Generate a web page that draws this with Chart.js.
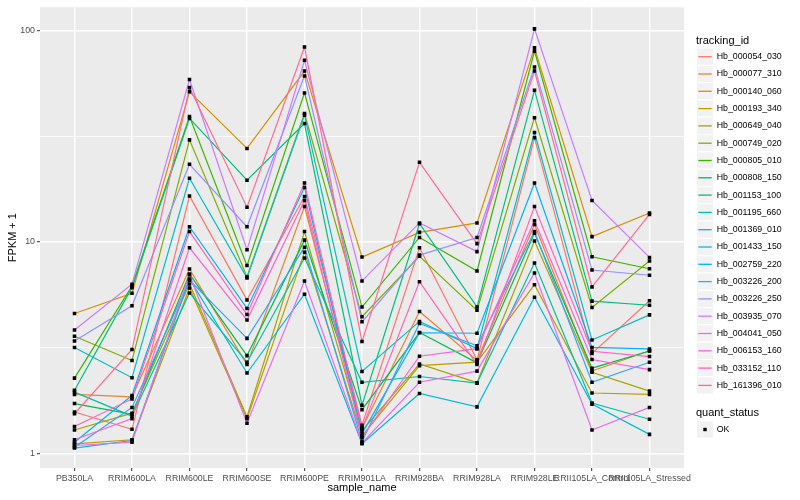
<!DOCTYPE html>
<html>
<head>
<meta charset="utf-8">
<script src="https://cdn.jsdelivr.net/npm/chart.js@4.4.1/dist/chart.umd.min.js"></script>
<style>
  html, body { margin: 0; padding: 0; background: #ffffff; }
  #wrap { width: 800px; height: 500px; }
</style>
</head>
<body>
<div id="wrap"><canvas id="c" width="800" height="500"></canvas></div>
<script>
// ---------- data ----------
const categories = ['PB350LA','RRIM600LA','RRIM600LE','RRIM600SE','RRIM600PE','RRIM901LA',
  'RRIM928BA','RRIM928LA','RRIM928LE','RRII105LA_Control','RRII105LA_Stressed'];

const seriesNames = ['Hb_000054_030','Hb_000077_310','Hb_000140_060','Hb_000193_340','Hb_000649_040',
  'Hb_000749_020','Hb_000805_010','Hb_000808_150','Hb_001153_100','Hb_001195_660','Hb_001369_010',
  'Hb_001433_150','Hb_002759_220','Hb_003226_200','Hb_003226_250','Hb_003935_070','Hb_004041_050',
  'Hb_006153_160','Hb_033152_110','Hb_161396_010'];

const Hb_000054_030 = [1.57, 1.30, 16.5, 5.32, 16.4, 1.36, 9.38, 2.77, 31.1, 2.97, 5.27];
const Hb_000077_310 = [1.90, 1.85, 7.45, 2.63, 14.7, 1.31, 4.69, 2.75, 12.1, 2.45, 3.06];
const Hb_000140_060 = [4.59, 5.72, 51.3, 27.7, 64.3, 8.48, 11.1, 12.3, 82.8, 10.6, 13.7];
const Hb_000193_340 = [1.11, 1.16, 6.06, 1.46, 8.95, 1.21, 2.60, 2.70, 6.28, 1.93, 1.90];
const Hb_000649_040 = [1.29, 1.55, 6.33, 1.49, 11.2, 1.28, 2.65, 2.16, 10.1, 2.42, 1.97];
const Hb_000749_020 = [3.58, 2.75, 30.4, 6.85, 40.5, 4.43, 8.55, 4.75, 38.7, 4.90, 8.12];
const Hb_000805_010 = [2.27, 6.19, 39.2, 7.73, 50.7, 4.92, 10.5, 7.29, 79.9, 8.51, 7.47];
const Hb_000808_150 = [1.72, 1.53, 7.05, 2.90, 10.2, 1.61, 3.73, 2.68, 11.0, 2.53, 3.05];
const Hb_001153_100 = [1.99, 6.08, 38.4, 19.6, 36.3, 1.69, 12.2, 4.93, 52.2, 5.25, 5.02];
const Hb_001195_660 = [1.95, 1.50, 5.74, 2.70, 8.39, 2.17, 2.31, 2.15, 7.95, 1.73, 1.45];
const Hb_001369_010 = [3.17, 2.28, 20.0, 6.76, 39.8, 2.44, 4.21, 3.13, 32.9, 3.44, 4.52];
const Hb_001433_150 = [1.06, 1.15, 6.68, 2.40, 5.66, 1.11, 1.92, 1.66, 5.48, 1.71, 1.23];
const Hb_002759_220 = [1.13, 1.88, 11.8, 4.85, 18.1, 1.24, 3.72, 3.70, 19.0, 3.17, 3.12];
const Hb_003226_200 = [1.07, 1.65, 6.60, 3.50, 9.45, 1.14, 4.12, 3.23, 11.2, 2.17, 2.70];
const Hb_003226_250 = [3.40, 4.99, 23.3, 11.8, 61.0, 4.19, 8.67, 10.5, 67.2, 7.37, 6.96];
const Hb_003935_070 = [3.83, 6.31, 58.6, 9.18, 72.3, 6.54, 12.3, 9.00, 101.8, 15.7, 8.45];
const Hb_004041_050 = [1.09, 1.13, 7.00, 1.39, 6.54, 1.12, 2.17, 2.45, 7.13, 1.29, 1.65];
const Hb_006153_160 = [1.16, 1.46, 9.38, 4.27, 15.7, 1.19, 2.88, 3.13, 12.6, 2.78, 2.49];
const Hb_033152_110 = [1.34, 1.81, 11.2, 4.54, 19.0, 1.31, 6.49, 2.63, 14.7, 3.04, 2.87];
const Hb_161396_010 = [1.54, 3.10, 53.7, 14.6, 83.5, 3.38, 23.8, 9.82, 64.3, 6.13, 13.5];

const seriesValues = [Hb_000054_030, Hb_000077_310, Hb_000140_060, Hb_000193_340, Hb_000649_040,
  Hb_000749_020, Hb_000805_010, Hb_000808_150, Hb_001153_100, Hb_001195_660, Hb_001369_010,
  Hb_001433_150, Hb_002759_220, Hb_003226_200, Hb_003226_250, Hb_003935_070, Hb_004041_050,
  Hb_006153_160, Hb_033152_110, Hb_161396_010];

const yMajorTicks = [1, 10, 100];
const yTickLabels = ['1', '10', '100'];
const yMinorTicks = [3.1623, 31.623];

const quantStatusLevels = ['OK'];

// ---------- styles ----------
const palette = ['#F8766D','#EA8331','#D89000','#C09B00','#A3A500','#7CAE00','#39B600','#00BB4E',
  '#00BF7D','#00C1A3','#00BFC4','#00BAE0','#00B0F6','#35A2FF','#9590FF','#C77CFF','#E76BF3',
  '#FA62DB','#FF62BC','#FF6C91'];
const FONT = "'Liberation Sans', Arial, Helvetica, sans-serif";

const datasets = seriesValues.map((vals, i) => ({
  type: 'line',
  label: seriesNames[i],
  data: vals.map((v, j) => ({ x: j, y: v })),
  borderColor: palette[i],
  backgroundColor: palette[i],
  borderWidth: 1.2,
  pointRadius: 0,
  pointHoverRadius: 0,
  fill: false,
  tension: 0,
  order: 100 - i
}));
datasets.push({
  type: 'scatter',
  label: quantStatusLevels[0],
  data: seriesValues.flatMap(vals => vals.map((v, j) => ({ x: j, y: v }))),
  backgroundColor: '#000000',
  borderColor: '#000000',
  borderWidth: 0,
  pointStyle: 'rect',
  pointRadius: 2.5,
  pointHoverRadius: 2.5,
  showLine: false,
  order: 0
});

const panelBg = {
  id: 'panelBg',
  beforeDraw(chart) {
    const { ctx, chartArea: a } = chart;
    ctx.save();
    ctx.fillStyle = '#EBEBEB';
    ctx.fillRect(a.left, a.top, a.right - a.left, a.bottom - a.top);
    ctx.restore();
  }
};

const ggLegend = {
  id: 'ggLegend',
  afterDraw(chart) {
    const ctx = chart.ctx;
    ctx.save();
    const x0 = 696;
    ctx.textBaseline = 'middle';
    ctx.textAlign = 'left';
    ctx.fillStyle = '#000000';
    ctx.font = '11px ' + FONT;
    ctx.fillText('tracking_id', x0, 40.7);
    const step = 17.3;
    seriesNames.forEach((name, i) => {
      const cy = 56.7 + i * step;
      ctx.fillStyle = '#F2F2F2';
      ctx.fillRect(x0 + 0.5, cy - step / 2, 17, step);
      ctx.strokeStyle = '#FFFFFF';
      ctx.lineWidth = 1;
      ctx.strokeRect(x0 + 0.5, cy - step / 2, 17, step);
      ctx.strokeStyle = palette[i];
      ctx.lineWidth = 1.3;
      ctx.beginPath();
      ctx.moveTo(x0 + 2.3, cy);
      ctx.lineTo(x0 + 15.7, cy);
      ctx.stroke();
      ctx.fillStyle = '#000000';
      ctx.font = '8.8px ' + FONT;
      ctx.fillText(name, 716.7, cy);
    });
    ctx.font = '11px ' + FONT;
    ctx.fillStyle = '#000000';
    ctx.fillText('quant_status', x0, 412.7);
    quantStatusLevels.forEach((lv, i) => {
      const cy = 429.5 + i * step;
      ctx.fillStyle = '#F2F2F2';
      ctx.fillRect(x0 + 0.5, cy - step / 2, 17, step);
      ctx.strokeStyle = '#FFFFFF';
      ctx.lineWidth = 1;
      ctx.strokeRect(x0 + 0.5, cy - step / 2, 17, step);
      ctx.fillStyle = '#000000';
      ctx.fillRect(x0 + 9 - 1.7, cy - 1.7, 3.4, 3.4);
      ctx.font = '8.8px ' + FONT;
      ctx.fillText(lv, 716.7, cy);
    });
    ctx.restore();
  }
};

const isMajorY = v => yMajorTicks.some(m => Math.abs(m - v) < 1e-6);

new Chart(document.getElementById('c'), {
  type: 'line',
  data: { datasets },
  plugins: [panelBg, ggLegend],
  options: {
    responsive: false,
    animation: false,
    events: [],
    layout: { padding: { top: 5, right: 116, left: 0, bottom: 0 } },
    plugins: { legend: { display: false }, tooltip: { enabled: false } },
    scales: {
      x: {
        type: 'linear',
        min: -0.6,
        max: 10.6,
        afterBuildTicks: s => { s.ticks = categories.map((c, i) => ({ value: i })); },
        afterFit: s => { s.height = 32; },
        ticks: {
          autoSkip: false, maxRotation: 0, minRotation: 0, padding: 2,
          color: '#4D4D4D', font: { family: FONT, size: 8.8 },
          callback: v => categories[v]
        },
        grid: { color: '#FFFFFF', lineWidth: 1.4, tickColor: '#333333', tickLength: 3, tickWidth: 1 },
        border: { display: false },
        title: { display: true, text: 'sample_name', color: '#000000',
          font: { family: FONT, size: 11 }, padding: { top: 0, bottom: 5 } }
      },
      y: {
        type: 'logarithmic',
        min: 0.853,
        max: 128.8,
        afterBuildTicks: s => {
          s.ticks = yMajorTicks.concat(yMinorTicks).sort((a, b) => a - b).map(v => ({ value: v }));
        },
        afterFit: s => { s.width = 40; },
        ticks: {
          autoSkip: false, padding: 2, color: '#4D4D4D', font: { family: FONT, size: 8.8 },
          callback: v => { const k = yMajorTicks.findIndex(m => Math.abs(m - v) < 1e-6); return k >= 0 ? yTickLabels[k] : ''; }
        },
        grid: {
          color: '#FFFFFF',
          lineWidth: c => (c.tick && isMajorY(c.tick.value)) ? 1.4 : 0.7,
          tickColor: c => (c.tick && isMajorY(c.tick.value)) ? '#333333' : 'rgba(0,0,0,0)',
          tickLength: 3, tickWidth: 1
        },
        border: { display: false },
        title: { display: true, text: 'FPKM + 1', color: '#000000',
          font: { family: FONT, size: 11 }, padding: { top: 6, bottom: 0 } }
      }
    }
  }
});
</script>
</body>
</html>
